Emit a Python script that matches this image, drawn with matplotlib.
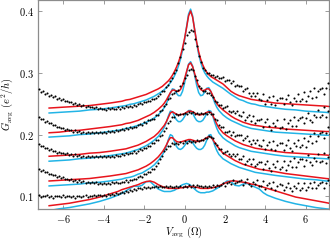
import numpy as np
import matplotlib
matplotlib.use('Agg')
import matplotlib.pyplot as plt

plt.rcParams['font.family'] = 'serif'
plt.rcParams['font.serif'] = ['cmr10']
plt.rcParams['mathtext.fontset'] = 'cm'
plt.rcParams['axes.formatter.use_mathtext'] = True

# voltage grid of the fitted curves
V_FIT = [-6.7, -6.2, -5.7, -5.2, -4.7, -4.2, -3.7,
         -3.3, -3.1, -2.9, -2.7, -2.5, -2.3, -2.1, -1.9, -1.7, -1.5, -1.3, -1.1,
         -1.0, -0.9, -0.8, -0.7, -0.6, -0.5, -0.4, -0.3, -0.2, -0.1, 0.0, 0.1, 0.2, 0.3,
         0.4, 0.5, 0.6, 0.7, 0.8, 0.9, 1.0, 1.1, 1.2, 1.3, 1.4, 1.5, 1.6, 1.7,
         1.9, 2.1, 2.3, 2.5, 2.7, 2.9, 3.1, 3.3, 3.5, 3.7, 3.9, 4.1,
         4.5, 5.0, 5.5, 6.0, 6.5, 7.0, 7.3]

# red fits, top to bottom
RED_1 = [0.243, 0.244, 0.245, 0.246, 0.247, 0.249, 0.251,
         0.253, 0.254, 0.256, 0.257, 0.259, 0.261, 0.263, 0.265, 0.268, 0.271, 0.274, 0.278,
         0.281, 0.284, 0.287, 0.291, 0.296, 0.302, 0.309, 0.317, 0.327, 0.340, 0.355, 0.373, 0.392, 0.400,
         0.390, 0.370, 0.350, 0.334, 0.322, 0.313, 0.306, 0.301, 0.297, 0.294, 0.292, 0.290, 0.288, 0.286,
         0.282, 0.276, 0.270, 0.266, 0.263, 0.261, 0.259, 0.257, 0.256, 0.255, 0.254, 0.253,
         0.251, 0.250, 0.249, 0.248, 0.247, 0.246, 0.245]
RED_2 = [0.203, 0.204, 0.206, 0.207, 0.209, 0.211, 0.213,
         0.215, 0.216, 0.218, 0.219, 0.221, 0.223, 0.226, 0.229, 0.232, 0.236, 0.241, 0.247,
         0.251, 0.256, 0.262, 0.268, 0.272, 0.272, 0.270, 0.270, 0.273, 0.280, 0.290, 0.302, 0.313, 0.316,
         0.310, 0.299, 0.287, 0.278, 0.273, 0.271, 0.272, 0.274, 0.274, 0.270, 0.263, 0.256, 0.250, 0.246,
         0.240, 0.235, 0.230, 0.226, 0.223, 0.220, 0.218, 0.216, 0.215, 0.214, 0.213, 0.212,
         0.211, 0.209, 0.208, 0.207, 0.206, 0.205, 0.205]
RED_3 = [0.165, 0.166, 0.167, 0.168, 0.170, 0.171, 0.173,
         0.175, 0.176, 0.177, 0.179, 0.181, 0.183, 0.186, 0.189, 0.193, 0.197, 0.203, 0.211,
         0.215, 0.221, 0.228, 0.235, 0.237, 0.235, 0.233, 0.232, 0.232, 0.233, 0.234, 0.236, 0.238, 0.238,
         0.237, 0.235, 0.233, 0.232, 0.232, 0.233, 0.234, 0.236, 0.237, 0.236, 0.231, 0.224, 0.217, 0.211,
         0.203, 0.198, 0.194, 0.190, 0.187, 0.184, 0.182, 0.180, 0.178, 0.177, 0.176, 0.175,
         0.173, 0.171, 0.170, 0.169, 0.168, 0.167, 0.166]
RED_4 = [0.125, 0.126, 0.127, 0.128, 0.129, 0.131, 0.133,
         0.135, 0.136, 0.137, 0.139, 0.141, 0.143, 0.146, 0.149, 0.153, 0.158, 0.164, 0.172,
         0.177, 0.183, 0.190, 0.195, 0.195, 0.192, 0.189, 0.188, 0.188, 0.189, 0.190, 0.191, 0.192, 0.192,
         0.191, 0.190, 0.189, 0.189, 0.190, 0.191, 0.193, 0.195, 0.197, 0.196, 0.192, 0.187, 0.182, 0.178,
         0.170, 0.166, 0.162, 0.158, 0.155, 0.152, 0.150, 0.148, 0.146, 0.144, 0.143, 0.142,
         0.140, 0.137, 0.135, 0.133, 0.131, 0.129, 0.128]
RED_5 = [0.085, 0.087, 0.089, 0.092, 0.095, 0.099, 0.104,
         0.108, 0.111, 0.113, 0.115, 0.117, 0.119, 0.122, 0.124, 0.125, 0.123, 0.119, 0.116,
         0.115, 0.114, 0.113, 0.113, 0.113, 0.113, 0.113, 0.113, 0.114, 0.114, 0.115, 0.115, 0.116, 0.116,
         0.116, 0.115, 0.115, 0.114, 0.113, 0.113, 0.113, 0.113, 0.113, 0.114, 0.114, 0.115, 0.116, 0.117,
         0.120, 0.123, 0.125, 0.125, 0.124, 0.123, 0.122, 0.120, 0.119, 0.117, 0.115, 0.113,
         0.109, 0.104, 0.099, 0.096, 0.093, 0.090, 0.088]

# cyan fits, top to bottom
CYAN_1 = [0.235, 0.236, 0.237, 0.238, 0.240, 0.241, 0.243,
          0.245, 0.246, 0.247, 0.249, 0.250, 0.252, 0.254, 0.256, 0.259, 0.262, 0.266, 0.270,
          0.273, 0.276, 0.280, 0.284, 0.289, 0.295, 0.302, 0.311, 0.322, 0.336, 0.353, 0.374, 0.395, 0.403,
          0.392, 0.370, 0.348, 0.330, 0.317, 0.307, 0.300, 0.295, 0.291, 0.288, 0.285, 0.283, 0.281, 0.279,
          0.275, 0.270, 0.265, 0.261, 0.257, 0.255, 0.252, 0.250, 0.249, 0.247, 0.246, 0.245,
          0.243, 0.241, 0.240, 0.238, 0.237, 0.236, 0.235]
CYAN_2 = [0.196, 0.197, 0.198, 0.200, 0.201, 0.203, 0.205,
          0.207, 0.208, 0.210, 0.211, 0.213, 0.215, 0.217, 0.220, 0.223, 0.227, 0.232, 0.239,
          0.244, 0.250, 0.258, 0.267, 0.274, 0.273, 0.267, 0.263, 0.263, 0.270, 0.283, 0.300, 0.314, 0.318,
          0.311, 0.296, 0.280, 0.268, 0.263, 0.264, 0.269, 0.275, 0.276, 0.270, 0.260, 0.251, 0.244, 0.239,
          0.232, 0.227, 0.223, 0.220, 0.217, 0.214, 0.212, 0.210, 0.209, 0.208, 0.207, 0.206,
          0.204, 0.203, 0.202, 0.201, 0.200, 0.199, 0.199]
CYAN_3 = [0.157, 0.158, 0.159, 0.161, 0.162, 0.164, 0.166,
          0.168, 0.169, 0.170, 0.172, 0.174, 0.176, 0.179, 0.182, 0.186, 0.191, 0.197, 0.206,
          0.212, 0.220, 0.230, 0.238, 0.237, 0.230, 0.224, 0.221, 0.221, 0.224, 0.229, 0.235, 0.239, 0.239,
          0.235, 0.228, 0.223, 0.221, 0.221, 0.223, 0.228, 0.234, 0.239, 0.238, 0.230, 0.219, 0.210, 0.203,
          0.195, 0.190, 0.186, 0.182, 0.179, 0.177, 0.175, 0.173, 0.172, 0.171, 0.170, 0.169,
          0.167, 0.165, 0.164, 0.163, 0.162, 0.161, 0.160]
CYAN_4 = [0.117, 0.118, 0.119, 0.120, 0.122, 0.123, 0.125,
          0.127, 0.128, 0.130, 0.131, 0.133, 0.136, 0.138, 0.142, 0.146, 0.151, 0.158, 0.167,
          0.173, 0.181, 0.192, 0.200, 0.198, 0.189, 0.181, 0.177, 0.176, 0.178, 0.182, 0.187, 0.190, 0.190,
          0.187, 0.182, 0.178, 0.176, 0.176, 0.178, 0.183, 0.191, 0.199, 0.200, 0.192, 0.182, 0.174, 0.168,
          0.161, 0.157, 0.153, 0.150, 0.147, 0.145, 0.143, 0.141, 0.139, 0.138, 0.137, 0.136,
          0.134, 0.132, 0.130, 0.128, 0.127, 0.125, 0.124]
CYAN_5 = [0.077, 0.080, 0.082, 0.085, 0.088, 0.092, 0.097,
          0.102, 0.105, 0.109, 0.113, 0.117, 0.116, 0.118, 0.124, 0.124, 0.118, 0.112, 0.109,
          0.108, 0.108, 0.108, 0.108, 0.109, 0.110, 0.112, 0.114, 0.117, 0.119, 0.120, 0.121, 0.120, 0.118,
          0.115, 0.112, 0.109, 0.107, 0.106, 0.106, 0.106, 0.107, 0.107, 0.108, 0.109, 0.111, 0.113, 0.115,
          0.120, 0.125, 0.124, 0.118, 0.117, 0.120, 0.121, 0.118, 0.115, 0.112, 0.106, 0.102,
          0.097, 0.092, 0.088, 0.085, 0.082, 0.080, 0.079]

# measured data, one row per volt starting at -7.2 V, 0.1 V steps
DATA_1 = [0.273, 0.269, 0.270, 0.266, 0.267, 0.263, 0.264, 0.261, 0.262, 0.258,
          0.259, 0.256, 0.257, 0.254, 0.255, 0.252, 0.253, 0.250, 0.251, 0.248,
          0.249, 0.247, 0.248, 0.245, 0.247, 0.244, 0.245, 0.243, 0.244, 0.242,
          0.243, 0.241, 0.242, 0.240, 0.243, 0.241, 0.243, 0.241, 0.242, 0.244,
          0.242, 0.245, 0.243, 0.246, 0.244, 0.247, 0.245, 0.248, 0.247, 0.250,
          0.251, 0.250, 0.253, 0.252, 0.255, 0.255, 0.258, 0.257, 0.260, 0.263,
          0.266, 0.270, 0.271, 0.277, 0.280, 0.287, 0.291, 0.300, 0.305, 0.316,
          0.325, 0.338, 0.348, 0.361, 0.366, 0.370, 0.367, 0.355, 0.343, 0.327,
          0.317, 0.307, 0.304, 0.299, 0.299, 0.296, 0.297, 0.294, 0.295, 0.292,
          0.291, 0.294, 0.287, 0.288, 0.288, 0.283, 0.287, 0.279, 0.280, 0.279,
          0.279, 0.270, 0.273, 0.276, 0.267, 0.262, 0.267, 0.263, 0.267, 0.258,
          0.256, 0.266, 0.249, 0.256, 0.261, 0.250, 0.263, 0.248, 0.256, 0.259,
          0.259, 0.249, 0.257, 0.264, 0.253, 0.248, 0.260, 0.255, 0.266, 0.254,
          0.257, 0.269, 0.254, 0.263, 0.270, 0.260, 0.275, 0.261, 0.270, 0.274,
          0.276, 0.266, 0.275, 0.284, 0.273]
DATA_2 = [0.229, 0.225, 0.225, 0.221, 0.222, 0.218, 0.218, 0.215, 0.216, 0.212,
          0.213, 0.210, 0.211, 0.208, 0.209, 0.207, 0.208, 0.205, 0.207, 0.204,
          0.206, 0.203, 0.205, 0.203, 0.205, 0.202, 0.204, 0.202, 0.204, 0.202,
          0.204, 0.203, 0.205, 0.203, 0.206, 0.204, 0.206, 0.205, 0.207, 0.206,
          0.207, 0.209, 0.208, 0.211, 0.209, 0.212, 0.211, 0.213, 0.212, 0.215,
          0.217, 0.216, 0.220, 0.219, 0.223, 0.223, 0.226, 0.226, 0.231, 0.231,
          0.238, 0.240, 0.246, 0.249, 0.257, 0.260, 0.266, 0.267, 0.271, 0.272,
          0.279, 0.283, 0.292, 0.297, 0.305, 0.306, 0.304, 0.295, 0.289, 0.279,
          0.275, 0.271, 0.271, 0.268, 0.268, 0.264, 0.261, 0.255, 0.253, 0.248,
          0.248, 0.243, 0.244, 0.246, 0.239, 0.236, 0.239, 0.235, 0.238, 0.232,
          0.230, 0.236, 0.224, 0.228, 0.231, 0.222, 0.230, 0.219, 0.223, 0.224,
          0.225, 0.213, 0.220, 0.226, 0.214, 0.208, 0.219, 0.214, 0.224, 0.211,
          0.213, 0.225, 0.209, 0.218, 0.224, 0.214, 0.228, 0.214, 0.223, 0.227,
          0.228, 0.218, 0.227, 0.235, 0.224, 0.220, 0.232, 0.229, 0.240, 0.228,
          0.232, 0.244, 0.229, 0.239, 0.246]
DATA_3 = [0.185, 0.181, 0.182, 0.178, 0.179, 0.175, 0.176, 0.173, 0.174, 0.171,
          0.172, 0.170, 0.171, 0.168, 0.170, 0.167, 0.169, 0.166, 0.168, 0.165,
          0.167, 0.164, 0.166, 0.164, 0.166, 0.163, 0.165, 0.163, 0.165, 0.163,
          0.165, 0.163, 0.165, 0.163, 0.166, 0.164, 0.166, 0.164, 0.167, 0.165,
          0.166, 0.168, 0.167, 0.170, 0.168, 0.171, 0.170, 0.173, 0.171, 0.174,
          0.176, 0.175, 0.179, 0.179, 0.182, 0.182, 0.186, 0.186, 0.191, 0.192,
          0.197, 0.199, 0.206, 0.210, 0.218, 0.222, 0.229, 0.229, 0.233, 0.232,
          0.234, 0.233, 0.235, 0.234, 0.236, 0.235, 0.236, 0.234, 0.235, 0.233,
          0.235, 0.233, 0.235, 0.234, 0.236, 0.233, 0.233, 0.226, 0.223, 0.216,
          0.212, 0.213, 0.204, 0.205, 0.206, 0.200, 0.205, 0.198, 0.200, 0.200,
          0.199, 0.191, 0.194, 0.198, 0.189, 0.185, 0.191, 0.187, 0.192, 0.183,
          0.182, 0.192, 0.176, 0.183, 0.188, 0.177, 0.190, 0.175, 0.183, 0.186,
          0.186, 0.175, 0.183, 0.191, 0.179, 0.174, 0.186, 0.181, 0.192, 0.180,
          0.183, 0.195, 0.180, 0.189, 0.197, 0.187, 0.203, 0.189, 0.198, 0.202,
          0.204, 0.194, 0.203, 0.212, 0.201]
DATA_4 = [0.145, 0.141, 0.142, 0.139, 0.139, 0.136, 0.137, 0.134, 0.135, 0.132,
          0.133, 0.130, 0.131, 0.128, 0.129, 0.127, 0.128, 0.125, 0.127, 0.124,
          0.126, 0.123, 0.125, 0.122, 0.124, 0.122, 0.123, 0.121, 0.123, 0.120,
          0.122, 0.120, 0.122, 0.120, 0.122, 0.120, 0.123, 0.121, 0.123, 0.122,
          0.122, 0.124, 0.123, 0.126, 0.124, 0.127, 0.126, 0.129, 0.128, 0.131,
          0.133, 0.132, 0.136, 0.136, 0.140, 0.140, 0.144, 0.145, 0.150, 0.154,
          0.161, 0.165, 0.173, 0.176, 0.182, 0.182, 0.186, 0.185, 0.187, 0.185,
          0.188, 0.186, 0.189, 0.187, 0.189, 0.188, 0.190, 0.188, 0.191, 0.189,
          0.192, 0.192, 0.195, 0.194, 0.198, 0.196, 0.194, 0.187, 0.183, 0.177,
          0.177, 0.171, 0.172, 0.174, 0.168, 0.165, 0.168, 0.165, 0.168, 0.161,
          0.160, 0.165, 0.153, 0.157, 0.160, 0.152, 0.160, 0.149, 0.153, 0.155,
          0.156, 0.144, 0.152, 0.158, 0.146, 0.141, 0.152, 0.147, 0.157, 0.144,
          0.147, 0.158, 0.142, 0.151, 0.157, 0.147, 0.162, 0.147, 0.156, 0.160,
          0.161, 0.150, 0.159, 0.167, 0.155, 0.151, 0.162, 0.158, 0.168, 0.156,
          0.158, 0.170, 0.154, 0.163, 0.169]
DATA_5 = [0.102, 0.099, 0.101, 0.100, 0.102, 0.099, 0.101, 0.098, 0.101, 0.100,
          0.101, 0.099, 0.102, 0.099, 0.100, 0.101, 0.099, 0.101, 0.098, 0.100,
          0.101, 0.099, 0.100, 0.102, 0.099, 0.101, 0.100, 0.102, 0.100, 0.102,
          0.102, 0.100, 0.103, 0.101, 0.104, 0.102, 0.104, 0.103, 0.105, 0.104,
          0.105, 0.107, 0.106, 0.109, 0.107, 0.110, 0.109, 0.112, 0.110, 0.113,
          0.114, 0.112, 0.115, 0.113, 0.116, 0.114, 0.116, 0.115, 0.117, 0.115,
          0.117, 0.115, 0.116, 0.117, 0.115, 0.117, 0.116, 0.115, 0.117, 0.116,
          0.117, 0.115, 0.117, 0.116, 0.118, 0.116, 0.118, 0.116, 0.118, 0.117,
          0.117, 0.115, 0.117, 0.115, 0.117, 0.116, 0.118, 0.116, 0.118, 0.117,
          0.118, 0.122, 0.117, 0.121, 0.123, 0.120, 0.126, 0.121, 0.124, 0.125,
          0.126, 0.119, 0.124, 0.129, 0.120, 0.117, 0.123, 0.120, 0.126, 0.117,
          0.117, 0.125, 0.112, 0.118, 0.122, 0.113, 0.124, 0.111, 0.117, 0.120,
          0.119, 0.110, 0.116, 0.122, 0.113, 0.109, 0.117, 0.114, 0.121, 0.111,
          0.113, 0.122, 0.110, 0.116, 0.122, 0.113, 0.124, 0.113, 0.119, 0.122,
          0.123, 0.114, 0.121, 0.127, 0.119]

V_DATA = np.linspace(-7.2, 7.2, len(DATA_1))

RED = '#e8141c'
CYAN = '#22b4e6'
SPINE = '#8c8c8c'


def main():
    fig = plt.figure(figsize=(3.3, 2.4), dpi=100)
    ax = fig.add_axes([0.1152, 0.13, 0.8818, 0.868])

    for cyan in (CYAN_1, CYAN_2, CYAN_3, CYAN_4, CYAN_5):
        ax.plot(V_FIT, cyan, color=CYAN, lw=1.1, zorder=2)
    for red in (RED_1, RED_2, RED_3, RED_4, RED_5):
        ax.plot(V_FIT, red, color=RED, lw=1.1, zorder=3)
    for data in (DATA_1, DATA_2, DATA_3, DATA_4, DATA_5):
        ax.plot(V_DATA, data, ls='none', marker='o', ms=1.5, mew=0, color='k', zorder=4)

    ax.set_xlim(-7.25, 7.15)
    ax.set_ylim(0.08, 0.417)
    ax.set_xticks([-6, -4, -2, 0, 2, 4, 6])
    ax.set_yticks([0.1, 0.2, 0.3, 0.4])
    ax.tick_params(direction='in', top=True, right=True, length=3, width=0.6,
                   color=SPINE, labelsize=7.5, pad=3)
    for s in ax.spines.values():
        s.set_color(SPINE)
        s.set_linewidth(0.9)

    ax.set_xlabel(r'$V_{\rm avg}$ $(\Omega)$', fontsize=7.5, labelpad=0)
    ax.set_ylabel(r'$G_{\rm avg}$ $(e^2/h)$', fontsize=7.5, labelpad=3)

    fig.savefig('out.png', dpi=100)


if __name__ == '__main__':
    main()
